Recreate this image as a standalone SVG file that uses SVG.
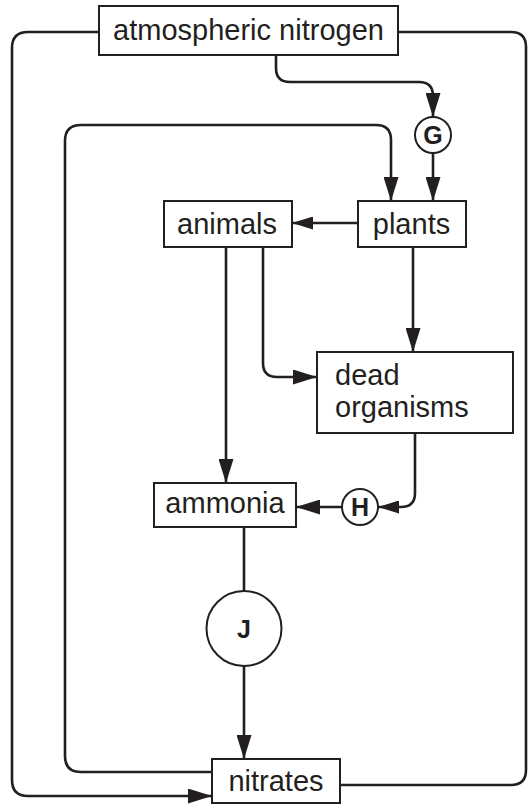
<svg xmlns="http://www.w3.org/2000/svg" width="528" height="805" viewBox="0 0 528 805">
<style>
.box{fill:#fff;stroke:#231f20;stroke-width:2}
.circ{fill:#fff;stroke:#231f20;stroke-width:2}
.lbl{font-family:"Liberation Sans",Arial,sans-serif;font-size:29px;fill:#231f20}
.let{font-family:"Liberation Sans",Arial,sans-serif;font-size:25px;font-weight:bold;fill:#231f20;text-anchor:middle}
.ln{fill:none;stroke:#231f20;stroke-width:2.6}
.arr{marker-end:url(#ah)}
.arrs{marker-end:url(#ahs)}
</style>
<defs>
<marker id="ah" markerUnits="userSpaceOnUse" markerWidth="24" markerHeight="15" refX="24" refY="7.5" orient="auto">
<path d="M0,0 L24,7.5 L0,15 z" fill="#231f20"/>
</marker>
<marker id="ahs" markerUnits="userSpaceOnUse" markerWidth="21" markerHeight="13" refX="21" refY="6.5" orient="auto">
<path d="M0,0 L21,6.5 L0,13 z" fill="#231f20"/>
</marker>
</defs>
<rect width="528" height="805" fill="#fff"/>
<g id="connectors">
<path class="ln arr" d="M99,32 H28 Q12,32 12,48 V780 Q12,796 28,796 H212"/>
<path class="ln" d="M398,32 H511 Q526,32 526,47 V770 Q526,785 511,785 H340"/>
<path class="ln arr" d="M212,772 H81 Q65,772 65,756 V141 Q65,125 81,125 H376 Q391,125 391,140 V201"/>
<path class="ln arr" d="M276,55 V68 Q276,82 290,82 H419 Q433,82 433,96 V117"/>
<path class="ln arr" d="M433,153 V201"/>
<path class="ln arrs" d="M358,223 H292"/>
<path class="ln arr" d="M413,247 V352"/>
<path class="ln arr" d="M263,247 V363 Q263,377 277,377 H317"/>
<path class="ln arr" d="M226,247 V483"/>
<path class="ln arrs" d="M415,433 V493 Q415,507 401,507 H378"/>
<path class="ln arr" d="M342,507 H296"/>
<path class="ln" d="M244,527 V591"/>
<path class="ln arr" d="M244,666 V759"/>
</g>
<g id="atmospheric-nitrogen">
<rect class="box" x="99" y="6" width="299" height="49"/>
<text class="lbl" x="248.5" y="40" text-anchor="middle">atmospheric nitrogen</text>
</g>
<g id="G">
<circle class="circ" cx="433" cy="135" r="18"/>
<text class="let" x="433" y="144">G</text>
</g>
<g id="plants">
<rect class="box" x="358" y="201" width="108" height="46"/>
<text class="lbl" x="411.5" y="234" text-anchor="middle">plants</text>
</g>
<g id="animals">
<rect class="box" x="164" y="201" width="128" height="46"/>
<text class="lbl" x="227" y="234" text-anchor="middle">animals</text>
</g>
<g id="dead-organisms">
<rect class="box" x="317" y="352" width="196" height="81"/>
<text class="lbl" x="335" y="385">dead</text>
<text class="lbl" x="335" y="417">organisms</text>
</g>
<g id="H">
<circle class="circ" cx="360" cy="507" r="18"/>
<text class="let" x="360" y="516">H</text>
</g>
<g id="ammonia">
<rect class="box" x="154" y="483" width="142" height="44"/>
<text class="lbl" x="225" y="513" text-anchor="middle">ammonia</text>
</g>
<g id="J">
<circle class="circ" cx="244" cy="628.5" r="37.5"/>
<text class="let" x="244" y="637.5">J</text>
</g>
<g id="nitrates">
<rect class="box" x="212" y="759" width="128" height="44"/>
<text class="lbl" x="276" y="791" text-anchor="middle">nitrates</text>
</g>
</svg>
